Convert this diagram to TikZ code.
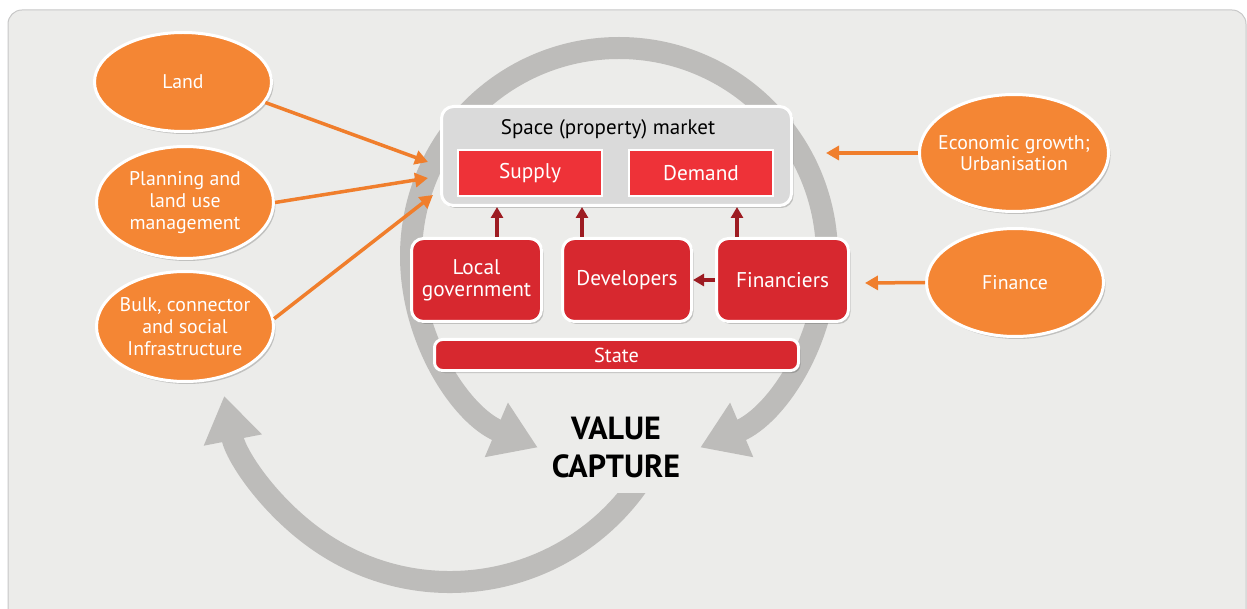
\documentclass[tikz,border=0pt]{standalone}
\usepackage{fontspec}
\setmainfont{PT Sans}
\usetikzlibrary{arrows.meta,shapes.geometric,shadows}

\definecolor{panelgray}{HTML}{ECECEA}
\definecolor{ringgray}{HTML}{BDBCBA}
\definecolor{blobor}{HTML}{F48634}
\definecolor{feedor}{HTML}{F07E2C}
\definecolor{actorred}{HTML}{D7282F}
\definecolor{sidered}{HTML}{EE3238}
\definecolor{pushred}{HTML}{9D1C22}
\definecolor{marketgray}{HTML}{DADADA}

\tikzset{
  softshadow/.style={drop shadow={shadow xshift=2pt, shadow yshift=-2.5pt, fill=black, opacity=0.18}},
  blob/.style={ellipse, fill=blobor, draw=white, line width=3pt, text=white, align=center,
    inner ysep=0pt, inner xsep=-6pt, font=\fontsize{19.8}{21.7}\selectfont, softshadow},
  actor/.style={rectangle, rounded corners=12pt, fill=actorred, draw=white, line width=3pt,
    text=white, align=center, inner sep=0pt, font=\fontsize{21.3}{21.7}\selectfont, softshadow},
  sidebox/.style={rectangle, fill=sidered, draw=white, line width=2pt, text=white,
    minimum width=144pt, minimum height=46pt, inner sep=0pt, font=\fontsize{21.3}{22}\selectfont},
  feedarrow/.style={draw=feedor, line width=3.5pt, -{Triangle[width=14pt,length=13pt]}},
  pusharrow/.style={draw=pushred, line width=3.5pt, -{Triangle[width=12pt,length=11pt]}},
  ringarrow/.style={draw=ringgray, line width=22pt, -{Triangle[width=56pt,length=45pt]}},
}

\begin{document}
\begin{tikzpicture}[x=1pt, y=-1pt]
  \clip (0,0) rectangle (1247,609);

  % panel
  \draw[fill=panelgray, draw=black!22, line width=1pt, rounded corners=14pt] (8,10) rectangle (1246,625);

  % value capture cycle round the market
  \draw[ringarrow] (619,48) arc[start angle=-90, end angle=-247, radius=208];
  \draw[ringarrow] (619,48) arc[start angle=-90, end angle=67, radius=208];

  % value capture back to the inputs
  \begin{scope}
    \clip (0,0) rectangle (560,609) (560,493) rectangle (1247,609);
    \draw[ringarrow] (450,352) ++(33:230) arc[start angle=33, end angle=169, radius=230];
  \end{scope}

  % space (property) market
  \node[rectangle, rounded corners=12pt, fill=marketgray, draw=white, line width=3pt,
    minimum width=350pt, minimum height=99pt, softshadow] (sm) at (616.5,156) {};
  \node[font=\fontsize{21}{24}\selectfont] (smtitle) at (608,129) {Space (property) market};
  \node[sidebox] (supply) at (530,173) {Supply};
  \node[sidebox] (demand) at (701,173) {Demand};

  % actors
  \node[actor, minimum width=130pt, minimum height=83pt] (lg) at (476.5,280) {Local\\government};
  \node[actor, minimum width=129pt, minimum height=83pt] (dev) at (627,280) {Developers};
  \node[actor, minimum width=132pt, minimum height=83pt] (fin) at (782.5,280) {Financiers};
  \node[actor, rounded corners=8pt, minimum width=364pt, minimum height=31pt,
    font=\fontsize{20.3}{22}\selectfont] (state) at (616.5,355) {State};

  % actors into the market
  \draw[pusharrow] ([xshift=20.5pt]lg.north) -- ([xshift=20.5pt]lg.north |- sm.south);
  \draw[pusharrow] ([xshift=-45pt]dev.north) -- ([xshift=-45pt]dev.north |- sm.south);
  \draw[pusharrow] ([xshift=-45.5pt]fin.north) -- ([xshift=-45.5pt]fin.north |- sm.south);
  \draw[pusharrow] (fin.west) -- (dev.east);

  % inputs
  \node[blob, minimum width=177pt, minimum height=99pt] (land) at (183,82) {Land};
  \node[blob, minimum width=177pt, minimum height=112pt] (plan) at (185,202.5) {Planning and\\land use\\management};
  \node[blob, minimum width=177pt, minimum height=110pt] (bulk) at (185,326.5) {Bulk, connector\\and social\\Infrastructure};
  \node[blob, inner xsep=-11pt, minimum width=189pt, minimum height=117pt] (econ) at (1014,153) {Economic growth;\\Urbanisation};
  \node[blob, minimum width=177pt, minimum height=108pt] (money) at (1015,282.5) {Finance};

  % ends of the input arrows
  \coordinate (landin) at (428,162);
  \coordinate (planin) at (428,178);
  \coordinate (bulkin) at (433,195);
  \coordinate (econin) at (826,153);
  \coordinate (moneyin) at (865,283);

  \draw[feedarrow] (land.-14) -- (landin);
  \draw[feedarrow] (plan.east) -- (planin);
  \draw[feedarrow] (bulk.5) -- (bulkin);
  \draw[feedarrow] (econ.west) -- (econin);
  \draw[feedarrow] (money.west) -- (moneyin);

  % value capture
  \node[font=\bfseries\fontsize{32}{38}\selectfont, align=center] (vc) at (616,447) {VALUE\\CAPTURE};
\end{tikzpicture}
\end{document}
